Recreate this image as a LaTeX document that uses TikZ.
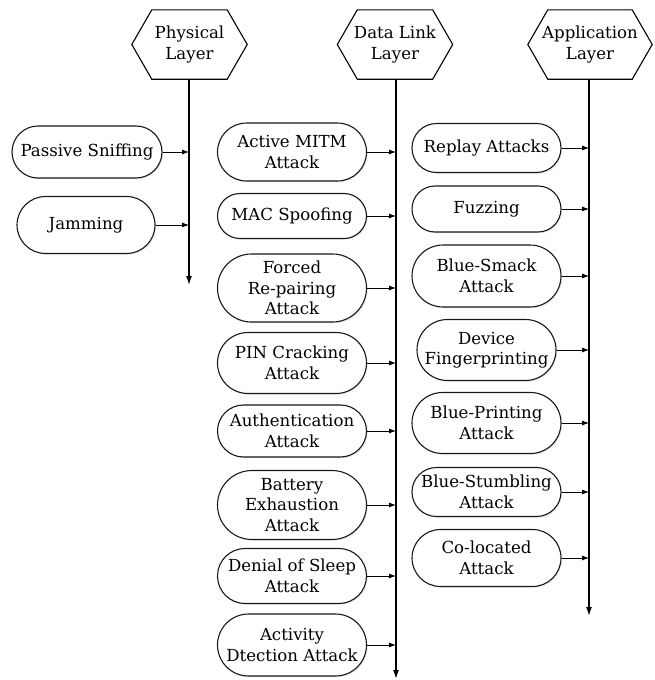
\documentclass[tikz,border=0pt]{standalone}
\usepackage{fontspec}
\setmainfont{DejaVu Serif}
\usetikzlibrary{shapes.misc,arrows.meta,shadows,calc}
\begin{document}
\begin{tikzpicture}[x=1pt,y=-1pt,
  attack/.style={draw=black!90,line width=1.1pt,rounded rectangle,inner sep=0pt,fill=white,
     align=center,font=\fontsize{16.6}{20.5}\selectfont,
     drop shadow={opacity=0.18,shadow xshift=1.2pt,shadow yshift=-1.2pt}},
  layer/.style={inner sep=0pt,align=center,font=\fontsize{16.6}{20.5}\selectfont},
  hexa/.style={draw=black,line width=1.1pt},
  feed/.style={line width=0.8pt,-{Latex[length=7pt,width=5pt]}},
  axis/.style={line width=1.4pt,-{Latex[length=9pt,width=6pt]}}]
\useasboundingbox (0,0) rectangle (655,680);
% layer headers
\node[layer,minimum width=115pt,minimum height=69pt] (phy) at (189.5,44.5) {Physical\\Layer};
\node[layer,minimum width=115pt,minimum height=69pt] (dll) at (395,44.5) {Data Link\\Layer};
\node[layer,minimum width=124pt,minimum height=69pt] (app) at (590,44.5) {Application\\Layer};
\foreach \h in {phy,dll,app}{
  \draw[hexa] ($(\h.north west)+(20,0)$) -- ($(\h.north east)+(-20,0)$) -- (\h.east)
    -- ($(\h.south east)+(-20,0)$) -- ($(\h.south west)+(20,0)$) -- (\h.west) -- cycle;
}
% axis ends
\coordinate (phyend) at (189,285);
\coordinate (dllend) at (396,679);
\coordinate (append) at (589,616);
\draw[axis] (phy.south -| phyend) -- (phyend);
\draw[axis] (dll.south -| dllend) -- (dllend);
\draw[axis] (app.south -| append) -- (append);
% physical layer attacks
\node[attack,minimum width=150pt,minimum height=52pt] (ps) at (87,152) {Passive Sniffing};
\node[attack,minimum width=138pt,minimum height=57pt] (jam) at (86,225) {Jamming};
% data link attacks
\node[attack,minimum width=149pt,minimum height=58pt] (mitm) at (292,152) {Active MITM\\Attack};
\node[attack,minimum width=149pt,minimum height=45pt] (mac) at (292,216) {MAC Spoofing};
\node[attack,minimum width=149pt,minimum height=68pt] (forced) at (292,288) {Forced\\Re-pairing\\Attack};
\node[attack,minimum width=149pt,minimum height=61pt] (pin) at (292,363) {PIN Cracking\\Attack};
\node[attack,minimum width=149pt,minimum height=52pt] (auth) at (292,431) {Authentication\\Attack};
\node[attack,minimum width=149pt,minimum height=69pt] (batt) at (292,505) {Battery\\Exhaustion\\Attack};
\node[attack,minimum width=149pt,minimum height=55pt] (dos) at (292,576) {Denial of Sleep\\Attack};
\node[attack,minimum width=149pt,minimum height=62pt] (act) at (292,645) {Activity\\Dtection Attack};
% application attacks
\node[attack,minimum width=149pt,minimum height=49pt] (replay) at (486.5,148) {Replay Attacks};
\node[attack,minimum width=149pt,minimum height=46pt] (fuzz) at (486.5,209) {Fuzzing};
\node[attack,minimum width=149pt,minimum height=62pt] (smack) at (486.5,276) {Blue-Smack\\Attack};
\node[attack,minimum width=139pt,minimum height=61pt] (device) at (486.5,350) {Device\\Fingerprinting};
\node[attack,minimum width=149pt,minimum height=61pt] (bprint) at (486.5,423) {Blue-Printing\\Attack};
\node[attack,minimum width=149pt,minimum height=49pt] (bstumb) at (486.5,492) {Blue-Stumbling\\Attack};
\node[attack,minimum width=149pt,minimum height=57pt] (coloc) at (486.5,558) {Co-located\\Attack};
% feeders
\foreach \n in {ps,jam}{\draw[feed] (\n.east) -- (\n.east -| phyend);}
\foreach \n in {mitm,mac,forced,pin,auth,batt,dos,act}{\draw[feed] (\n.east) -- (\n.east -| dllend);}
\foreach \n in {replay,fuzz,smack,device,bprint,bstumb,coloc}{\draw[feed] (\n.east) -- (\n.east -| append);}
\end{tikzpicture}
\end{document}
